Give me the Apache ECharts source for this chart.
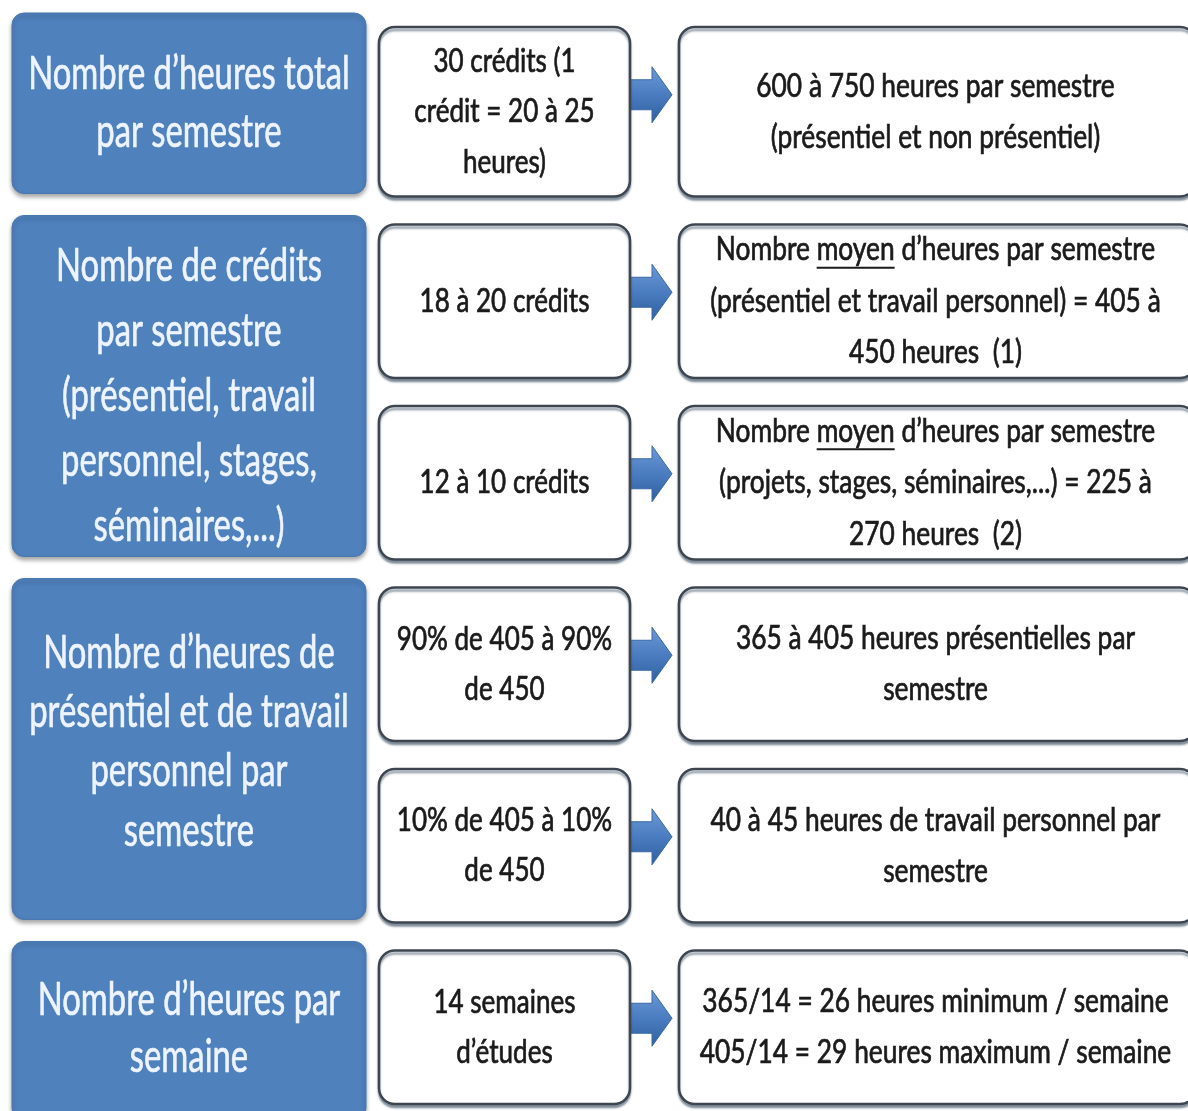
<!DOCTYPE html>
<html><head><meta charset="utf-8">
<script src="https://cdn.jsdelivr.net/npm/echarts@6/dist/echarts.min.js"></script>
<style>html,body{margin:0;padding:0;background:#fff}#c{width:1188px;height:1111px}</style>
</head><body><div id="c"></div><script>
// ---- data ----
const leftLabels = [
  'Nombre d\u2019heures total\npar semestre',
  'Nombre de crédits\npar semestre\n(présentiel, travail\npersonnel, stages,\nséminaires,...)',
  'Nombre d\u2019heures de\nprésentiel et de travail\npersonnel par\nsemestre',
  'Nombre d\u2019heures par\nsemaine'
];
const leftSpans = [[0, 1], [1, 3], [3, 5], [5, 6]];
const rowSlots = [0, 1, 2, 3, 4, 5];
const middleLabels = [
  '30 crédits (1\ncrédit = 20 à 25\nheures)',
  '18 à 20 crédits',
  '12 à 10 crédits',
  '90% de 405 à 90%\nde 450',
  '10% de 405 à 10%\nde 450',
  '14 semaines\nd\u2019études'
];
const rightLabels = [
  '600 à 750 heures par semestre\n(présentiel et non présentiel)',
  'Nombre moyen d\u2019heures par semestre\n(présentiel et travail personnel) = 405 à\n450 heures  (1)',
  'Nombre moyen d\u2019heures par semestre\n(projets, stages, séminaires,...) = 225 à\n270 heures  (2)',
  '365 à 405 heures présentielles par\nsemestre',
  '40 à 45 heures de travail personnel par\nsemestre',
  '365/14 = 26 heures minimum / semaine\n405/14 = 29 heures maximum / semaine'
];
const rightUnderline = ['', 'moyen', 'moyen', '', '', ''];

// ---- styles / layout ----
const FONT = "Lato,'DejaVu Sans Condensed',sans-serif";
const COL = {leftL: 12, leftR: 366, midL: 379, midR: 630, arrL: 626, arrNeck: 652, arrR: 672, rightL: 679, rightR: 1196};
const LEFT = {fs: 41, sx: 0.80, sy: 1.12, sw: 0.6};
const MID = {fs: 31, sx: 0.84, sy: 1.05, lh: 48, sw: 0.7};
const RIGHT = {fs: 31, sx: 0.85, sy: 1.05, lh: 49, sw: 0.7};
const leftLineHeights = [51, 58, 53, 51];
const BLUE = '#4f81bd';

const mctx = document.createElement('canvas').getContext('2d');
function measure(txt, fs) { mctx.font = fs + 'px ' + FONT; return mctx.measureText(txt).width; }
function px(api, x, s) { return api.coord([x, s]); }

function textEl(cx, cy, txt, st, fill, lh) {
  return {type: 'text', x: cx, y: cy, scaleX: st.sx, scaleY: st.sy,
    style: {x: 0, y: 0, text: txt, fill: fill, stroke: fill, lineWidth: st.sw, fontSize: st.fs, fontFamily: FONT,
      align: 'center', verticalAlign: 'middle', lineHeight: lh}};
}

function renderLeft(params, api) {
  const s0 = api.value(0), s1 = api.value(1), idx = api.value(2);
  const first = s0 === 0, last = s1 === 6;
  const x0 = px(api, COL.leftL, 0)[0], x1 = px(api, COL.leftR, 0)[0];
  const y0 = px(api, 0, s0)[1] + (first ? -4 : 17);
  const y1 = px(api, 0, s1)[1] - (last ? -14 : 5);
  const cx = (x0 + x1) / 2, cy = (y0 + y1) / 2 + (idx === 2 ? -7 : idx === 1 ? 10 : idx === 3 ? -2 : 0);
  return {
    type: 'group',
    children: [
      {type: 'rect', shape: {x: x0, y: y0, width: x1 - x0, height: y1 - y0, r: 12},
        style: {fill: BLUE, stroke: '#4a78b0', lineWidth: 1, shadowColor: 'rgba(0,0,0,0.35)', shadowBlur: 4, shadowOffsetY: 3}},
      textEl(cx, cy, leftLabels[idx], LEFT, '#eef4ff', leftLineHeights[idx])
    ]
  };
}

function renderRow(params, api) {
  const s = api.value(0), idx = api.value(1);
  const first = s === 0;
  const y0 = px(api, 0, s)[1] + (first ? 10 : 26);
  const y1 = px(api, 0, s + 1)[1] - 2;
  const cy = (y0 + y1) / 2;
  const mx0 = px(api, COL.midL, 0)[0], mx1 = px(api, COL.midR, 0)[0];
  const rx0 = px(api, COL.rightL, 0)[0], rx1 = px(api, COL.rightR, 0)[0];
  const ax0 = px(api, COL.arrL, 0)[0], axn = px(api, COL.arrNeck, 0)[0], ax1 = px(api, COL.arrR, 0)[0];
  const ay = cy - (first ? 17 : 9);
  const boxStyle = {fill: '#ffffff', stroke: '#3d4650', lineWidth: 2.5, shadowColor: 'rgba(60,80,100,0.55)', shadowBlur: 2, shadowOffsetY: 3};
  const children = [
    {type: 'polygon', shape: {points: [[ax0, ay - 15], [axn, ay - 15], [axn, ay - 28], [ax1, ay], [axn, ay + 28], [axn, ay + 15], [ax0, ay + 15]]},
      style: {fill: new echarts.graphic.LinearGradient(0, 0, 0, 1, [{offset: 0, color: '#6d9ad6'}, {offset: 0.5, color: '#4a7cc0'}, {offset: 1, color: '#2f5f9e'}]),
        stroke: '#3a6aa6', lineWidth: 1}},
    {type: 'rect', shape: {x: mx0, y: y0, width: mx1 - mx0, height: y1 - y0, r: 16}, style: boxStyle},
    {type: 'rect', shape: {x: rx0, y: y0, width: rx1 - rx0, height: y1 - y0, r: 16}, style: boxStyle},
    textEl((mx0 + mx1) / 2, cy, middleLabels[idx], MID, '#1a1a1a', MID.lh)
  ];
  const rcx = (rx0 + rx1) / 2 - 2;
  children.push(textEl(rcx, cy, rightLabels[idx], RIGHT, '#1a1a1a', RIGHT.lh));
  const word = rightUnderline[idx];
  if (word) {
    const lines = rightLabels[idx].split('\n');
    const n = lines.length;
    lines.forEach((ln, k) => {
      const p = ln.indexOf(word);
      if (p < 0) return;
      const lw = measure(ln, RIGHT.fs) * RIGHT.sx;
      const xs = rcx - lw / 2 + measure(ln.slice(0, p), RIGHT.fs) * RIGHT.sx;
      const ww = measure(word, RIGHT.fs) * RIGHT.sx;
      const ly = cy + (-(n - 1) * RIGHT.lh / 2 + k * RIGHT.lh + RIGHT.fs * 0.55) * RIGHT.sy;
      children.push({type: 'line', shape: {x1: xs, y1: ly, x2: xs + ww, y2: ly}, style: {stroke: '#1a1a1a', lineWidth: 2}});
    });
  }
  return {type: 'group', children};
}

const chart = echarts.init(document.getElementById('c'), null, {renderer: 'canvas'});
chart.setOption({
  backgroundColor: '#ffffff',
  animation: false,
  grid: {left: 0, right: 0, top: 17, bottom: 5},
  xAxis: {type: 'value', min: 0, max: 1188, show: false},
  yAxis: {type: 'value', min: 0, max: 6, inverse: true, show: false},
  series: [
    {type: 'custom', renderItem: renderLeft, clip: false,
      data: leftSpans.map((sp, i) => [sp[0], sp[1], i]), encode: {x: -1, y: [0, 1]}},
    {type: 'custom', renderItem: renderRow, clip: false,
      data: rowSlots.map((s, i) => [s, i]), encode: {x: -1, y: 0}}
  ]
});
</script></body></html>
